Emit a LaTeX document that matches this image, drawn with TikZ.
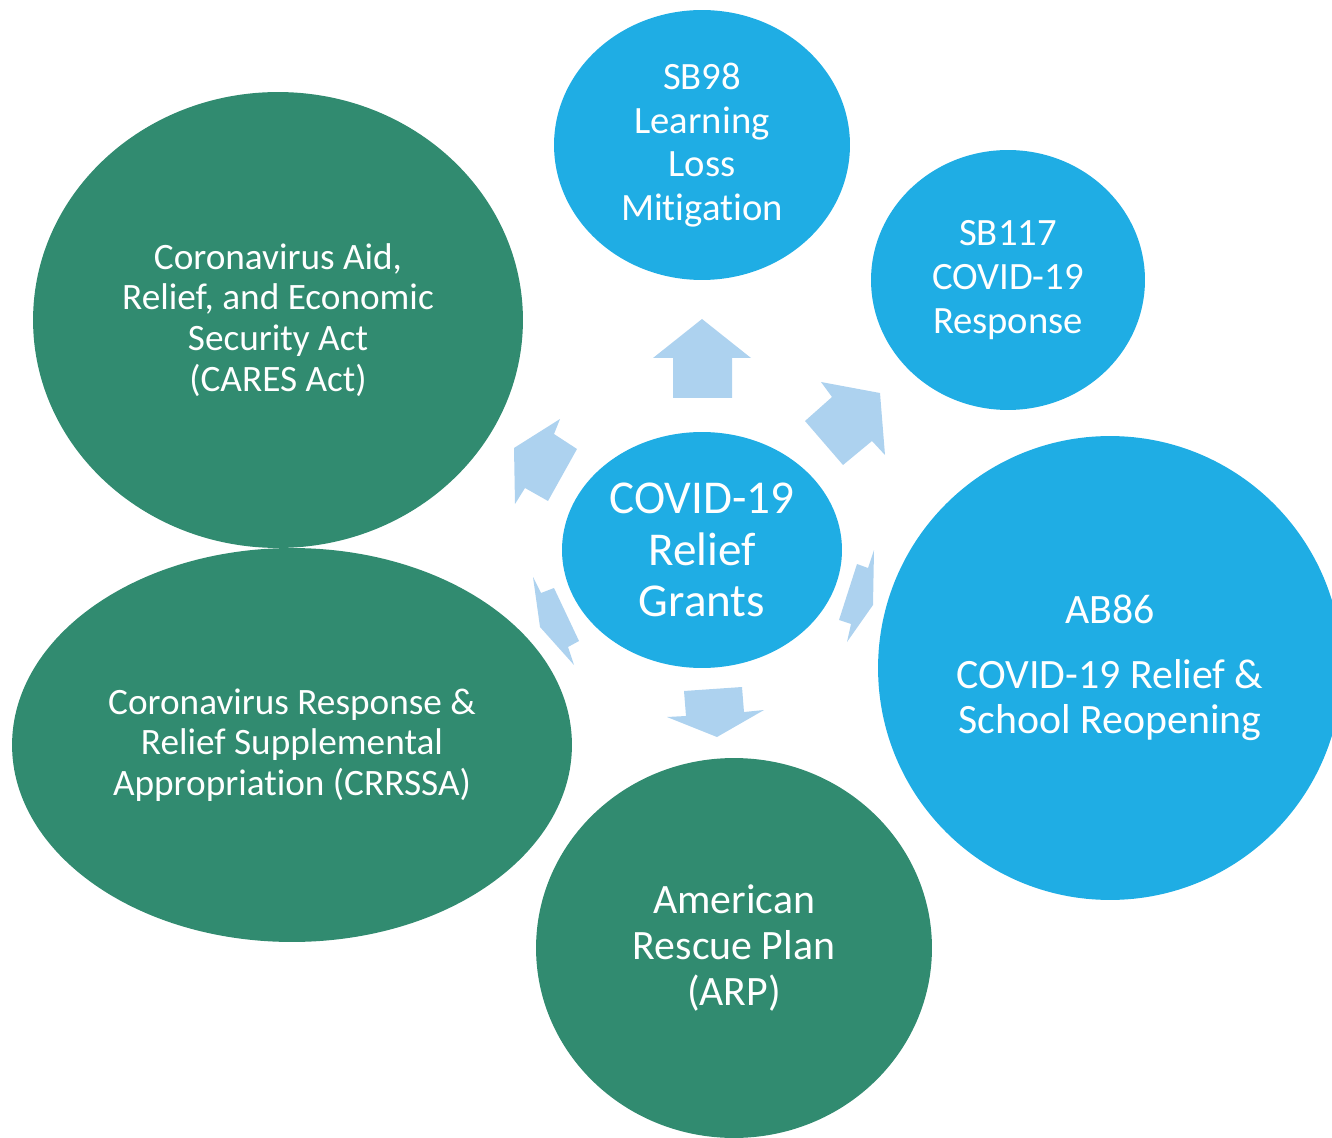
\documentclass[tikz,border=0pt]{standalone}
\usepackage{fontspec}
\setmainfont{Carlito}[Ligatures=NoCommon]
\usetikzlibrary{shapes.geometric}
\definecolor{grantblue}{HTML}{1FADE4}
\definecolor{actgreen}{HTML}{318B70}
\definecolor{arrowblue}{HTML}{ADD2EF}
\tikzset{
	fund/.style={ellipse, inner sep=0pt, text=white, align=center},
	bluefund/.style={fund, fill=grantblue},
	greenfund/.style={fund, fill=actgreen},
	flow/.style={fill=arrowblue}
}
\begin{document}
\begin{tikzpicture}[x=0.02cm, y=-0.02cm]
	\useasboundingbox (0,0) rectangle (1332,1138);
	\clip (0,0) rectangle (1332,1138);

	% grants round the centre
	\node[greenfund, minimum width=9.8cm, minimum height=9.12cm, font=\fontsize{21.2}{23.2}\selectfont] (cares) at (278,320)
		{Coronavirus Aid,\\Relief, and Economic\\Security Act\\(CARES Act)};
	\node[greenfund, minimum width=11.2cm, minimum height=7.88cm, font=\fontsize{21.2}{23.2}\selectfont] (crrssa) at (292,745)
		{Coronavirus Response \&\\Relief Supplemental\\Appropriation (CRRSSA)};
	\node[greenfund, minimum width=7.92cm, minimum height=7.6cm, font=\fontsize{23.8}{26}\selectfont] (arp) at (734,948)
		{American\\Rescue Plan\\(ARP)};
	\node[bluefund, minimum width=9.28cm, minimum height=9.28cm, font=\fontsize{23.8}{26}\selectfont] (ab86) at (1110,668)
		{AB86\\[10.8pt]COVID-19 Relief \&\\School Reopening};
	\node[bluefund, minimum width=5.48cm, minimum height=5.2cm, font=\fontsize{22}{24.9}\selectfont] (sb117) at (1008,280)
		{SB117\\COVID-19\\Response};
	\node[bluefund, minimum width=5.92cm, minimum height=5.4cm, font=\fontsize{22}{24.9}\selectfont] (sb98) at (702,145)
		{SB98\\Learning\\Loss\\Mitigation};
	\node[bluefund, minimum width=5.6cm, minimum height=4.72cm, font=\fontsize{26.8}{29.5}\selectfont] (relief) at (702,550)
		{COVID-19\\Relief\\Grants};

	% block arrows
	\fill[flow] (702,319) -- (751,358) -- (732,358) -- (732,398) -- (673,398) -- (673,358) -- (653,358) -- cycle;
	\fill[flow] (821,382) -- (880,393) -- (885,455) -- (872,441) -- (843,465) -- (805,421) -- (832,397) -- cycle;
	\fill[flow] (874,550) -- (868,568) -- (857,564) -- (839,620) -- (851,624) -- (847,642) -- (873,605) -- cycle;
	\fill[flow] (684,691) -- (742,687) -- (744,712) -- (764,710) -- (717,737) -- (667,717) -- (686,716) -- cycle;
	\fill[flow] (533,577) -- (541,593) -- (554,588) -- (579,641) -- (568,647) -- (574,665) -- (540,627) -- cycle;
	\fill[flow] (560,419) -- (554,434) -- (577,449) -- (548,501) -- (525,488) -- (515,504) -- (514,448) -- cycle;
\end{tikzpicture}
\end{document}
